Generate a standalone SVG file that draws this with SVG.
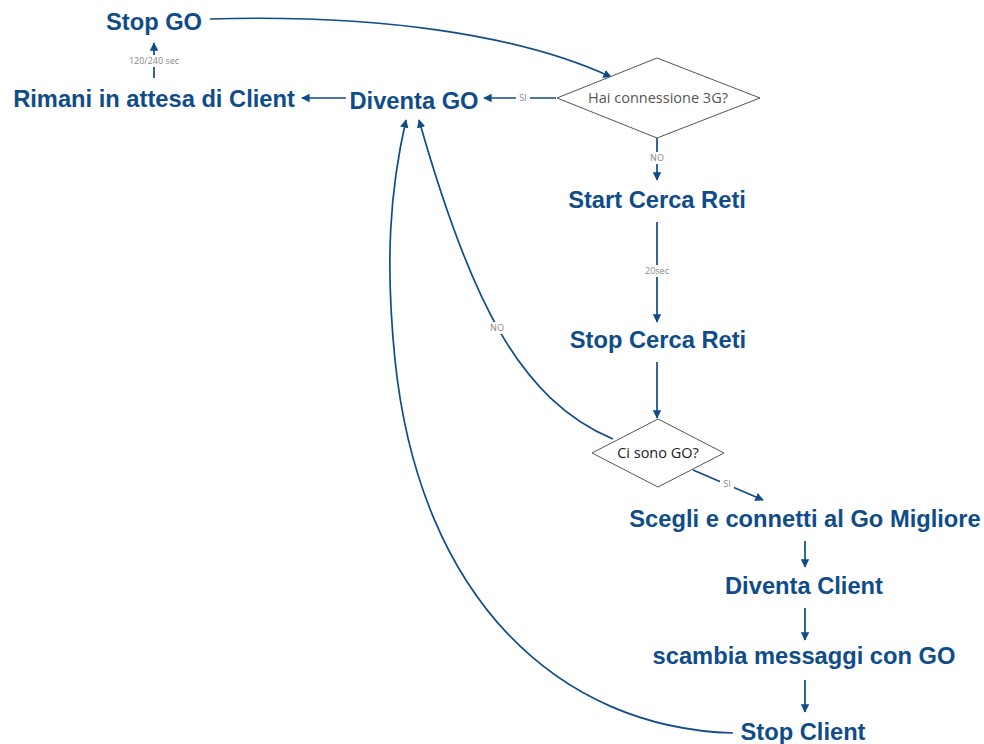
<svg xmlns="http://www.w3.org/2000/svg" width="984" height="744" viewBox="0 0 984 744">
<defs>
<marker id="ah" viewBox="0 0 10 10" refX="9" refY="5" markerWidth="5" markerHeight="5" orient="auto" markerUnits="strokeWidth">
<path d="M0,0 L10,5 L0,10 z" fill="#0f4c8a"/>
</marker>
</defs>
<style>
.n{font-family:"Liberation Sans",Arial,sans-serif;font-weight:bold;font-size:23.7px;fill:#0f4c8a;text-anchor:middle}
.d{fill:#fff;stroke:#555;stroke-width:1}
.dt{font-family:"Open Sans","Noto Sans",sans-serif;font-size:14.5px;text-anchor:middle}
.c{fill:none;stroke:#0f4c8a;stroke-width:1.7;marker-end:url(#ah)}
.l{font-family:"Open Sans","Noto Sans",sans-serif;font-size:9px;fill:#888;text-anchor:middle}
.bg{fill:#fff}
</style>
<rect width="984" height="744" fill="#fff"/>
<g id="connectors">
<path class="c" d="M210,19 C380,14 520,35 611,77"/>
<path class="c" d="M556,98 L484,98"/>
<path class="c" d="M346,98 L302,98"/>
<path class="c" d="M154,78 L154,43"/>
<path class="c" d="M657,138 L657,180"/>
<path class="c" d="M657,222 L657,322"/>
<path class="c" d="M657,362 L657,418"/>
<path class="c" d="M613,439 C520,400 470,300 419,120"/>
<path class="c" d="M693,470 L763,500"/>
<path class="c" d="M733,733 C560,728 420,600 395,360 C385,260 390,190 406,120"/>
<path class="c" d="M805,541 L805,567"/>
<path class="c" d="M805,608 L805,640"/>
<path class="c" d="M805,680 L805,712"/>
<rect class="bg" x="129" y="55" width="52" height="12"/>
<text class="l" x="154" y="64">120/240 sec</text>
<rect class="bg" x="516" y="92" width="14" height="12"/>
<text class="l" x="523" y="101">SI</text>
<rect class="bg" x="648" y="152" width="18" height="12"/>
<text class="l" x="657" y="161">NO</text>
<rect class="bg" x="644" y="265" width="26" height="12"/>
<text class="l" x="657" y="274">20sec</text>
<rect class="bg" x="487" y="322" width="20" height="12"/>
<text class="l" x="497" y="331">NO</text>
<rect class="bg" x="720" y="478" width="14" height="12"/>
<text class="l" x="727" y="487">SI</text>
</g>
<g id="stop-go"><text class="n" x="154" y="30">Stop GO</text></g>
<g id="rimani"><text class="n" x="154" y="107">Rimani in attesa di Client</text></g>
<g id="diventa-go"><text class="n" x="414" y="109">Diventa GO</text></g>
<g id="hai-3g"><polygon class="d" points="657,58 760,98 657,138 557,98"/><text class="dt" x="658" y="103" fill="#555">Hai connessione 3G?</text></g>
<g id="start-cerca"><text class="n" x="657" y="208">Start Cerca Reti</text></g>
<g id="stop-cerca"><text class="n" x="658" y="348">Stop Cerca Reti</text></g>
<g id="ci-sono-go"><polygon class="d" points="658,419 724,453 658,487 592,453"/><text class="dt" x="658" y="458" fill="#222">Ci sono GO?</text></g>
<g id="scegli"><text class="n" x="805" y="527">Scegli e connetti al Go Migliore</text></g>
<g id="diventa-client"><text class="n" x="804" y="594">Diventa Client</text></g>
<g id="scambia"><text class="n" x="804" y="664">scambia messaggi con GO</text></g>
<g id="stop-client"><text class="n" x="803" y="740">Stop Client</text></g>
</svg>
